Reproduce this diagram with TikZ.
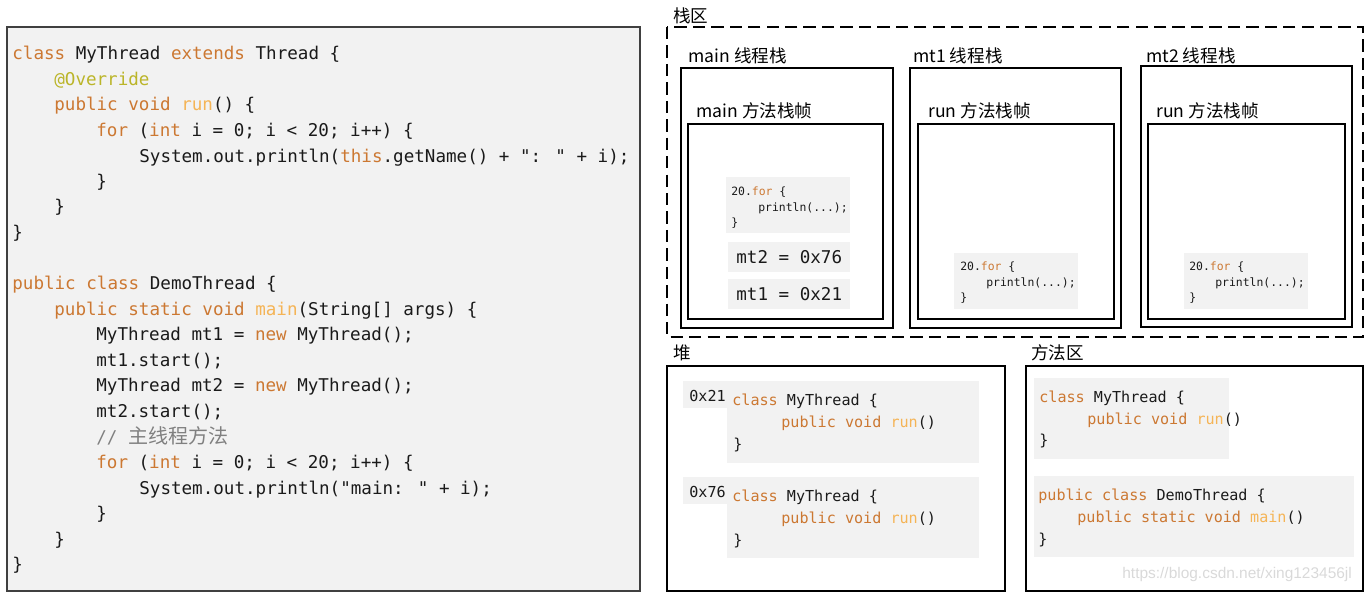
\documentclass[tikz,border=0pt]{standalone}
\usepackage{fontspec}
\usetikzlibrary{positioning}
\newfontfamily\codefont{DejaVu Sans Mono}
\newfontfamily\cjkfont{Noto Sans CJK SC}
\newfontfamily\markfont{Liberation Sans}
\definecolor{kwOrange}{HTML}{CC7832}
\definecolor{annoYellow}{HTML}{BBB529}
\definecolor{fnGold}{HTML}{F5B456}
\definecolor{cmtGray}{HTML}{808080}
\definecolor{textDark}{HTML}{1A1A1A}
\definecolor{codeBg}{HTML}{F2F2F2}
\definecolor{frameGray}{HTML}{404040}
\newcommand{\kw}[1]{\textcolor{kwOrange}{#1}}
\newcommand{\fnc}[1]{\textcolor{fnGold}{#1}}
\newcommand{\anno}[1]{\textcolor{annoYellow}{#1}}
\newcommand{\cmt}[1]{\textcolor{cmtGray}{#1}}

\begin{document}
\begin{tikzpicture}[x=0.02cm, y=-0.02cm,
    code/.style={anchor=mid west, inner sep=0pt, text=textDark, yshift=-1.6pt,
                 font=\codefont\fontsize{10}{12}\selectfont},
    heapcode/.style={code, font=\codefont\fontsize{8.6}{10}\selectfont},
    snip/.style={code, yshift=0.6pt, font=\codefont\fontsize{6.5}{8}\selectfont},
    area/.style={anchor=mid west, inner sep=0pt, text=black, yshift=-1.6pt,
                 font=\cjkfont\fontsize{10}{12}\selectfont},
    thread/.style={draw=black, line width=1.2pt},
    frame/.style={draw=black, line width=1.5pt},
    bg/.style={fill=codeBg},
  ]
    \useasboundingbox (0,0) rectangle (1366,593);

    % source code
    \draw[fill=codeBg, draw=frameGray, line width=0.8pt] (7,27) rectangle (640,591);
    \node[code] (c1) at (12,53) {\kw{class} MyThread \kw{extends} Thread \{};
    \node[code] (c2) at (54,79) {\anno{@Override}};
    \node[code] (c3) at (54,104) {\kw{public void} \fnc{run}() \{};
    \node[code] (c4) at (96,130) {\kw{for} (\kw{int} i = 0; i < 20; i++) \{};
    \node[code] (c5) at (139,156) {System.out.println(\kw{this}.getName() + ": " + i);};
    \node[code] (c6) at (96,181) {\}};
    \node[code] (c7) at (54,206) {\}};
    \node[code] (c8) at (12,232) {\}};
    \node[code] (c10) at (12,283) {\kw{public class} DemoThread \{};
    \node[code] (c11) at (54,309) {\kw{public static void} \fnc{main}(String[] args) \{};
    \node[code] (c12) at (96,334) {MyThread mt1 = \kw{new} MyThread();};
    \node[code] (c13) at (96,360) {mt1.start();};
    \node[code] (c14) at (96,385) {MyThread mt2 = \kw{new} MyThread();};
    \node[code] (c15) at (96,411) {mt2.start();};
    \node[code] (c16) at (96,437) {\cmt{// {\cjkfont\fontsize{11.4}{12}\selectfont 主线程方法}}};
    \node[code] (c17) at (96,462) {\kw{for} (\kw{int} i = 0; i < 20; i++) \{};
    \node[code] (c18) at (139,488) {System.out.println("main: " + i);};
    \node[code] (c19) at (96,513) {\}};
    \node[code] (c20) at (54,539) {\}};
    \node[code] (c21) at (12,564) {\}};

    % stack area
    \node[area] (stack) at (673,16) {栈区};
    \draw[line width=1.2pt, dash pattern=on 7pt off 3.5pt] (667,27) rectangle (1363,337);

    \node[area] (mainStack) at (688,56) {main 线程栈};
    \draw[thread] (681,68) rectangle (893,328);
    \node[area] (mainFrame) at (696,111) {main 方法栈帧};
    \draw[frame] (688,124) rectangle (883,319);
    \fill[bg] (726,177) rectangle (850,233);
    \node[snip] (mainFor) at (731,190) {20.\kw{for} \{};
    \node[snip] (mainPrint) at (758,206) {println(...);};
    \node[snip] (mainEnd) at (731,221) {\}};
    \fill[bg] (728,242) rectangle (850,272);
    \node[code] (refTwo) at (736,257) {mt2 = 0x76};
    \fill[bg] (728,279) rectangle (850,309);
    \node[code] (refOne) at (736,294) {mt1 = 0x21};

    \node[area] (oneStack) at (913,56) {mt1 线程栈};
    \draw[thread] (910,68) rectangle (1121,328);
    \node[area] (oneFrame) at (928,111) {run 方法栈帧};
    \draw[frame] (918,124) rectangle (1114,319);
    \fill[bg] (954,253) rectangle (1078,309);
    \node[snip] (oneFor) at (960,265) {20.\kw{for} \{};
    \node[snip] (onePrint) at (986,281) {println(...);};
    \node[snip] (oneEnd) at (960,296) {\}};

    \node[area] (twoStack) at (1146,56) {mt2 线程栈};
    \draw[thread] (1141,66) rectangle (1352,327);
    \node[area] (twoFrame) at (1156,111) {run 方法栈帧};
    \draw[frame] (1148,124) rectangle (1345,319);
    \fill[bg] (1184,253) rectangle (1308,309);
    \node[snip] (twoFor) at (1189,265) {20.\kw{for} \{};
    \node[snip] (twoPrint) at (1215,281) {println(...);};
    \node[snip] (twoEnd) at (1189,296) {\}};

    % heap
    \node[area] (heap) at (673,353) {堆};
    \draw[thread] (667,366) rectangle (1005,591);
    \fill[bg] (683,381) rectangle (727,408);
    \fill[bg] (727,381) rectangle (979,463);
    \node[heapcode] (addrOne) at (689,395) {0x21};
    \node[heapcode] (objOne) at (732,399) {\kw{class} MyThread \{};
    \node[heapcode] (objOneRun) at (781,421) {\kw{public void} \fnc{run}()};
    \node[heapcode] (objOneEnd) at (733,443) {\}};
    \fill[bg] (683,477) rectangle (727,504);
    \fill[bg] (727,477) rectangle (979,558);
    \node[heapcode] (addrTwo) at (689,491) {0x76};
    \node[heapcode] (objTwo) at (732,495) {\kw{class} MyThread \{};
    \node[heapcode] (objTwoRun) at (781,517) {\kw{public void} \fnc{run}()};
    \node[heapcode] (objTwoEnd) at (733,539) {\}};

    % method area
    \node[area] (method) at (1031,353) {方法区};
    \draw[thread] (1026,366) rectangle (1363,591);
    \fill[bg] (1034,378) rectangle (1229,459);
    \node[heapcode] (clsThread) at (1039,396) {\kw{class} MyThread \{};
    \node[heapcode] (clsThreadRun) at (1087,418) {\kw{public void} \fnc{run}()};
    \node[heapcode] (clsThreadEnd) at (1039,439) {\}};
    \fill[bg] (1034,476) rectangle (1354,557);
    \node[heapcode] (clsDemo) at (1038,494) {\kw{public class} DemoThread \{};
    \node[heapcode] (clsDemoMain) at (1077,516) {\kw{public static void} \fnc{main}()};
    \node[heapcode] (clsDemoEnd) at (1038,538) {\}};
    \node[anchor=mid west, inner sep=0pt, text=black!15,
          font=\markfont\fontsize{8.8}{10}\selectfont] (mark) at (1122,575)
      {https://blog.csdn.net/xing123456jl};
  \end{tikzpicture}
\end{document}
